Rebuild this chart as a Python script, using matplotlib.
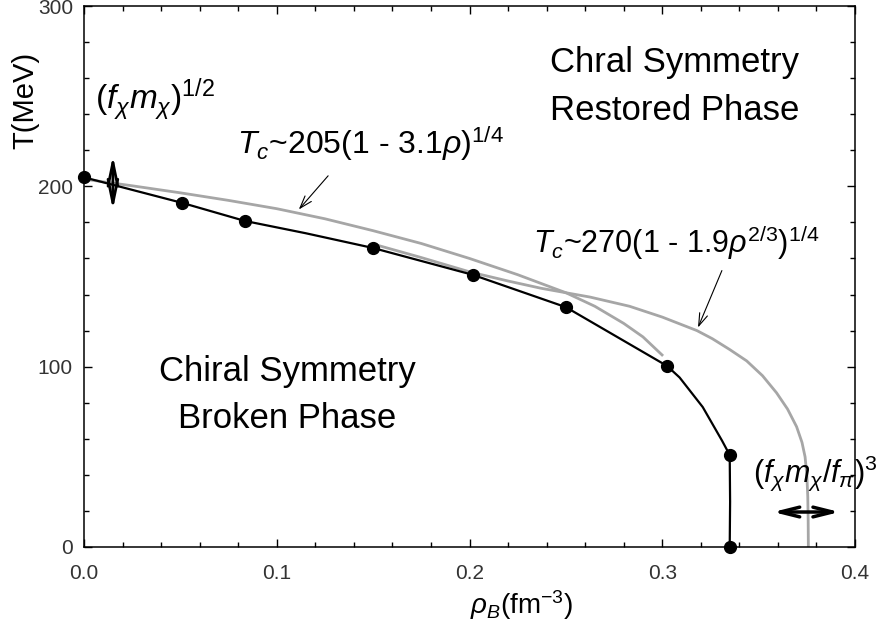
import matplotlib
matplotlib.use("Agg")
import matplotlib.pyplot as plt
from matplotlib.ticker import MultipleLocator

plt.rcParams['font.family'] = ['Liberation Sans', 'DejaVu Sans']
plt.rcParams['mathtext.fontset'] = 'custom'
plt.rcParams['mathtext.rm'] = 'Liberation Sans'
plt.rcParams['mathtext.it'] = 'Liberation Sans:italic'
plt.rcParams['mathtext.bf'] = 'Liberation Sans:bold'
plt.rcParams['mathtext.fallback'] = 'cm'

# ---- data ----
calc_rho = [0.0, 0.051, 0.0835, 0.150, 0.2018, 0.250, 0.3025, 0.335, 0.335]
calc_T = [205, 190.8, 180.8, 165.8, 150.9, 133.0, 100.4, 51.0, 0.0]

calc_line_rho = [0.0, 0.051, 0.0835, 0.115, 0.150, 0.2018, 0.250, 0.3025, 0.309,
                 0.321, 0.331, 0.335, 0.3352, 0.335]
calc_line_T = [205, 190.8, 180.8, 174.0, 165.8, 150.9, 133.0, 100.4, 94.0,
               77.6, 59.0, 51.0, 25.0, 0.0]

fit1_rho = [0.0, 0.025, 0.05, 0.075, 0.10, 0.125, 0.15, 0.175, 0.20, 0.225,
            0.25, 0.265, 0.28, 0.29, 0.2999]
fit1_T = [204, 200.3, 196.4, 192.2, 187.6, 182.0, 175.4, 168.3, 160.0, 151.0,
          141.0, 133.5, 124.0, 116.5, 106.5]

fit2_rho = [0.150, 0.175, 0.2003, 0.220, 0.237, 0.250, 0.2625, 0.283, 0.300, 0.318,
            0.326, 0.335, 0.3438, 0.352, 0.3593, 0.365, 0.3697, 0.3725, 0.3741,
            0.3750, 0.3755, 0.3757, 0.3758]
fit2_T = [168.0, 160.5, 152.5, 147.5, 143.5, 141.0, 138.6, 133.5, 127.5, 120.0,
          115.5, 109.5, 103.2, 95.0, 85.5, 76.5, 66.7, 58.0, 50.0,
          40.0, 28.0, 15.0, 0.0]

xticks = [0.0, 0.1, 0.2, 0.3, 0.4]
xticklabels = ['0.0', '0.1', '0.2', '0.3', '0.4']
yticks = [0, 100, 200, 300]
yticklabels = ['0', '100', '200', '300']

fig = plt.figure(figsize=(8.89, 6.30), dpi=100)
ax = fig.add_axes([84/889, 1-547/630, (855-84)/889, (547-6)/630])

gray = '#a6a6a6'
ax.plot(fit1_rho, fit1_T, color=gray, lw=2.0, zorder=2)
ax.plot(fit2_rho, fit2_T, color=gray, lw=2.0, zorder=2)
ax.plot(calc_line_rho, calc_line_T, color='black', lw=1.6, zorder=3)
ax.plot(calc_rho, calc_T, 'o', color='black', ms=8.5, zorder=4, clip_on=False)

ax.set_xlim(0, 0.4)
ax.set_ylim(0, 300)
ax.set_xticks(xticks)
ax.set_xticklabels(xticklabels)
ax.set_yticks(yticks)
ax.set_yticklabels(yticklabels)
ax.xaxis.set_minor_locator(MultipleLocator(0.02))
ax.yaxis.set_minor_locator(MultipleLocator(20))
ax.tick_params(which='both', direction='in', top=True, right=True, color='black')
ax.tick_params(which='major', length=6, width=1.0)
ax.tick_params(which='minor', length=3.5, width=1.0)
ax.tick_params(axis='x', which='major', pad=12, labelsize=15, labelcolor='#333333')
ax.tick_params(axis='y', which='major', pad=8, labelsize=15, labelcolor='#333333')
for s in ax.spines.values():
    s.set_linewidth(1.1)

# axis labels
fig.text(25/889, 1-100/630, 'T(MeV)', rotation=90, ha='center', va='center', fontsize=21)
fig.text(470/889, 1-605/630, r'$\rho_B$(fm$^{-3}$)', ha='left', va='center', fontsize=20)

# region labels
ax.text(0.3066, 263.4, 'Chral Symmetry', ha='center', va='baseline', fontsize=25)
ax.text(0.3066, 236.8, 'Restored Phase', ha='center', va='baseline', fontsize=25)
ax.text(0.1053, 92.1, 'Chiral Symmetry', ha='center', va='baseline', fontsize=25)
ax.text(0.1053, 66.0, 'Broken Phase', ha='center', va='baseline', fontsize=25)

# formulas
ax.text(0.0057, 242.4, r'$(f_\chi m_\chi)^{\mathit{1/2}}$', ha='left', va='baseline', fontsize=24)
ax.text(0.0794, 218.0, r'$T_c$~205(1 - 3.1$\rho$)$^{1/4}$',
        ha='left', va='baseline', fontsize=23)
ax.text(0.233, 163.0, r'$T_c$~270(1 - 1.9$\rho^{2/3}$)$^{1/4}$',
        ha='left', va='baseline', fontsize=22)
ax.text(0.347, 36.0, r'$(f_\chi m_\chi/f_\pi)^{3}$', ha='left', va='baseline',
        fontsize=22, clip_on=False)

# pointer arrows
ax.annotate('', xy=(0.1105, 186.0), xytext=(0.1276, 207.0),
            arrowprops=dict(arrowstyle='->,head_length=0.9,head_width=0.3', lw=0.8, color='black'))
ax.annotate('', xy=(0.318, 120.3), xytext=(0.3315, 154.7),
            arrowprops=dict(arrowstyle='->,head_length=0.9,head_width=0.3', lw=0.8, color='black'))

# double arrows
ax.annotate('', xy=(0.015, 187.0), xytext=(0.015, 217.0),
            arrowprops=dict(arrowstyle='<->,head_length=1.7,head_width=0.35', lw=2.0,
                            color='black', shrinkA=0, shrinkB=0))
ax.annotate('', xy=(0.3575, 19.4), xytext=(0.392, 19.4),
            arrowprops=dict(arrowstyle='<->,head_length=1.4,head_width=0.35', lw=2.5,
                            color='black', shrinkA=0, shrinkB=0))

fig.savefig('out.png', dpi=100)
